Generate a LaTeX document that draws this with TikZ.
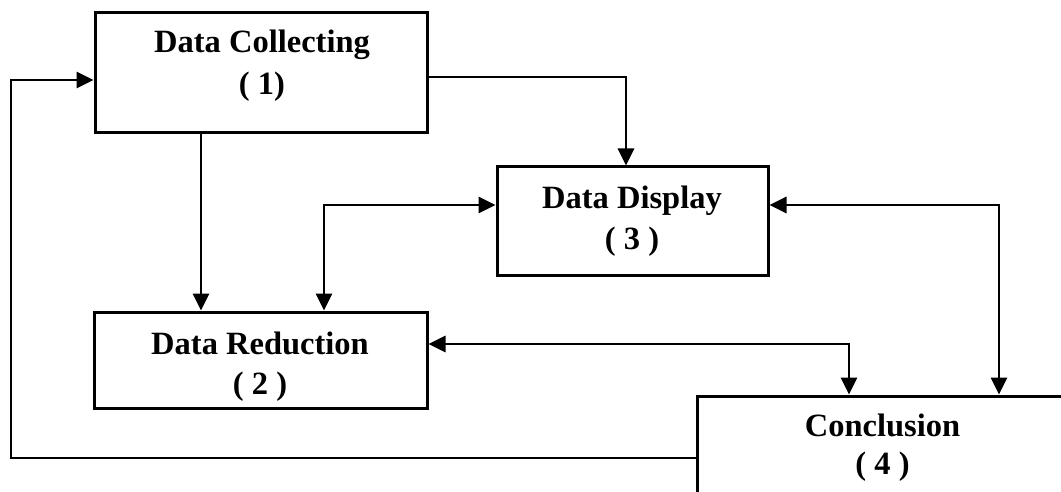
\documentclass[tikz,border=0pt]{standalone}
\usepackage{fontspec}
\setmainfont{Liberation Serif}
\usetikzlibrary{arrows.meta}
\tikzset{
  box/.style={draw=black, line width=3pt, fill=white, rectangle, inner sep=0pt},
  txt/.style={anchor=base, inner sep=0pt, font=\fontsize{32.5}{40}\selectfont\bfseries},
  conn/.style={draw=black, line width=2.7pt},
  tip/.tip={Triangle[length=17pt,width=16pt]},
  arr/.style={conn, -tip},
  dbl/.style={conn, tip-tip}
}
\begin{document}
\begin{tikzpicture}[x=1pt,y=-1pt]
\useasboundingbox (0,0) rectangle (1061,492);
\fill[white] (0,0) rectangle (1061,492);
\clip (0,0) rectangle (1061,492);
\node[box, minimum width=332pt, minimum height=120pt] (DC) at (261,73) {};
\node[box, minimum width=271pt, minimum height=108pt] (DD) at (632.5,221) {};
\node[box, minimum width=333pt, minimum height=96pt] (DR) at (260.5,360) {};
\node[box, minimum width=370pt, minimum height=108pt] (CO) at (882,450) {};
\node[txt] (DCa) at (262,53) {Data Collecting};
\node[txt] (DCb) at (262,95) {( 1)};
\node[txt] (DDa) at (632,208) {Data Display};
\node[txt] (DDb) at (632,249) {( 3 )};
\node[txt] (DRa) at (260,354) {Data Reduction};
\node[txt] (DRb) at (260,394) {( 2 )};
\node[txt] (COa) at (882.5,436) {Conclusion};
\node[txt] (COb) at (882.5,474) {( 4 )};
\coordinate (fb) at (11,80);
\draw[arr] (DC.east |- 0,77) -| (DD.north -| 626,0);
\draw[arr] (DC.south -| 201,0) -- (DR.north -| 201,0);
\draw[dbl] (DD.west |- 0,205) -| (DR.north -| 324,0);
\draw[dbl] (DD.east |- 0,205) -| (CO.north -| 999,0);
\draw[dbl] (DR.east |- 0,344) -| (CO.north -| 849,0);
\draw[arr] (CO.west |- 0,458) -| (fb) -- (DC.west |- fb);
\end{tikzpicture}
\end{document}
